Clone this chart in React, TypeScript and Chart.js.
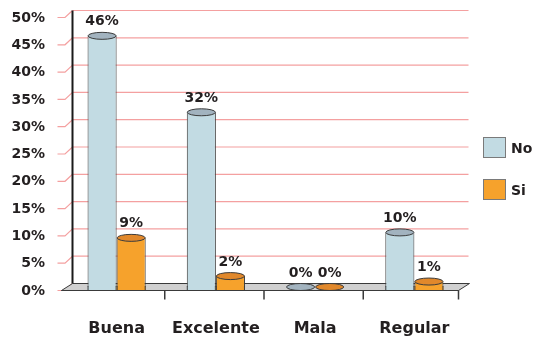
import React, { useEffect, useRef } from 'react';
import { Chart, registerables } from 'chart.js';
Chart.register(...registerables);

const categories = ['Buena', 'Excelente', 'Mala', 'Regular'];
const seriesNames = ['No', 'Si'];
const noValues = [46, 32, 0, 10];
const siValues = [9, 2, 0, 1];
const yMax = 50;
const yStep = 5;

const bodyColors = ['#c2dbe3', '#f6a22c'];
const topColors = ['#a2b3bf', '#e1882b'];
const FONT = '"DejaVu Sans", sans-serif';
const TEXT = '#231f20';
const DX = 5.5;
const DY = 3.5;

const cylinderPlugin = {
  id: 'cyl3d',
  beforeDatasetsDraw(chart: any) {
    const { ctx, chartArea: ca, scales } = chart;
    const y = scales.y;
    const x = scales.x;
    ctx.save();
    ctx.lineWidth = 1.2;
    ctx.strokeStyle = '#f4a0a0';
    for (let v = 0; v <= yMax; v += yStep) {
      const p = y.getPixelForValue(v);
      const yb = p - DY;
      const yf = p + DY;
      ctx.beginPath();
      ctx.moveTo(ca.left - 9.5, yf);
      ctx.lineTo(ca.left - 2, yf);
      ctx.lineTo(ca.left + DX, yb);
      ctx.stroke();
      if (v > 0) {
        ctx.beginPath();
        ctx.moveTo(ca.left + DX, yb);
        ctx.lineTo(ca.right + DX - 1, yb);
        ctx.stroke();
      }
    }
    const y0 = y.getPixelForValue(0);
    ctx.lineWidth = 1;
    ctx.beginPath();
    ctx.moveTo(ca.left - DX, y0 + DY);
    ctx.lineTo(ca.right - DX, y0 + DY);
    ctx.lineTo(ca.right + DX, y0 - DY);
    ctx.lineTo(ca.left + DX, y0 - DY);
    ctx.closePath();
    ctx.fillStyle = '#d0d0d0';
    ctx.fill();
    ctx.strokeStyle = '#3a3a3a';
    ctx.stroke();
    ctx.strokeStyle = '#1a1a1a';
    ctx.lineWidth = 2;
    ctx.beginPath();
    ctx.moveTo(ca.left + DX, y.getPixelForValue(yMax) - DY);
    ctx.lineTo(ca.left + DX, y0 - DY);
    ctx.stroke();
    ctx.lineWidth = 1.5;
    ctx.strokeStyle = '#3a3a3a';
    for (let i = 1; i <= categories.length; i++) {
      const px = i < categories.length ? x.getPixelForValue(i - 0.5) - 1.5 : ca.right - DX;
      ctx.beginPath();
      ctx.moveTo(px, y0 + DY);
      ctx.lineTo(px, y0 + DY + 9);
      ctx.stroke();
    }
    ctx.restore();
  },
  afterDatasetsDraw(chart: any) {
    const { ctx, chartArea: ca, scales } = chart;
    const y0 = scales.y.getPixelForValue(0);
    ctx.save();
    chart.data.datasets.forEach((ds: any, d: number) => {
      const meta = chart.getDatasetMeta(d);
      meta.data.forEach((el: any, i: number) => {
        const { x, y: top, base, width } = el.getProps(['x', 'y', 'base', 'width'], true);
        const rx = width / 2;
        ctx.lineWidth = 1;
        ctx.strokeStyle = '#3c3c3c';
        if (top < base - 0.5) {
          ctx.fillStyle = bodyColors[d];
          ctx.fillRect(x - rx, base - 0.5, width, DY + 0.5);
          ctx.beginPath();
          ctx.moveTo(x - rx + 0.5, base - 1);
          ctx.lineTo(x - rx + 0.5, base + DY);
          ctx.moveTo(x + rx - 0.5, base - 1);
          ctx.lineTo(x + rx - 0.5, base + DY);
          ctx.stroke();
        }
        ctx.beginPath();
        ctx.ellipse(x, top, rx - 0.5, DY, 0, 0, Math.PI * 2);
        ctx.fillStyle = topColors[d];
        ctx.fill();
        ctx.stroke();
        ctx.fillStyle = TEXT;
        ctx.font = 'bold 14px ' + FONT;
        ctx.textAlign = 'center';
        ctx.textBaseline = 'alphabetic';
        ctx.fillText(ds.data[i] + '%', x, top - 10.5);
      });
    });
    ctx.strokeStyle = '#3a3a3a';
    ctx.lineWidth = 1;
    ctx.beginPath();
    ctx.moveTo(ca.left - DX, y0 + DY);
    ctx.lineTo(ca.right - DX, y0 + DY);
    ctx.stroke();
    seriesNames.forEach((name, k) => {
      const by = 137 + k * 42;
      ctx.fillStyle = bodyColors[k];
      ctx.fillRect(483, by, 23, 21);
      ctx.strokeStyle = '#7a7a7a';
      ctx.strokeRect(483.5, by + 0.5, 22, 20);
      ctx.fillStyle = TEXT;
      ctx.font = 'bold 14px ' + FONT;
      ctx.textAlign = 'left';
      ctx.textBaseline = 'alphabetic';
      ctx.fillText(name, 511, by + 16);
    });
    ctx.restore();
  },
};

export default function App() {
  const ref = useRef<HTMLCanvasElement>(null);
  useEffect(() => {
    if (!ref.current) return;
    const chart = new Chart(ref.current, {
      type: 'bar',
      data: {
        labels: categories,
        datasets: [
          {
            label: seriesNames[0],
            data: noValues,
            backgroundColor: bodyColors[0],
            borderColor: '#3c3c3c',
            borderWidth: { left: 1, right: 1, top: 0, bottom: 0 },
            categoryPercentage: 0.586,
            barPercentage: 1,
          },
          {
            label: seriesNames[1],
            data: siValues,
            backgroundColor: bodyColors[1],
            borderColor: '#3c3c3c',
            borderWidth: { left: 1, right: 1, top: 0, bottom: 0 },
            categoryPercentage: 0.586,
            barPercentage: 1,
          },
        ],
      },
      options: {
        responsive: false,
        maintainAspectRatio: false,
        animation: false,
        layout: { padding: { left: 0, right: 72, top: 14, bottom: 0 } },
        plugins: { legend: { display: false }, tooltip: { enabled: false } },
        scales: {
          x: {
            grid: { display: false },
            border: { display: false },
            ticks: { color: TEXT, font: { family: FONT, size: 16, weight: 'bold' }, padding: 24, maxRotation: 0 },
            afterFit: (s: any) => { s.height = 50; s.paddingLeft = 0; s.paddingRight = 0; },
          },
          y: {
            min: 0,
            max: yMax,
            grid: { display: false },
            border: { display: false },
            ticks: {
              stepSize: yStep,
              color: TEXT,
              font: { family: FONT, size: 14, weight: 'bold' },
              padding: 14,
              labelOffset: 4,
              callback: (v: any) => v + '%',
            },
            afterFit: (s: any) => { s.width = 67; s.paddingTop = 0; s.paddingBottom = 0; },
          },
        },
      },
      plugins: [cylinderPlugin],
    } as any);
    return () => chart.destroy();
  }, []);
  return (
    <div style={{ position: 'fixed', left: 0, top: 0, width: 536, height: 337, background: '#fff' }}>
      <canvas ref={ref} width={536} height={337} style={{ display: 'block' }} />
    </div>
  );
}
